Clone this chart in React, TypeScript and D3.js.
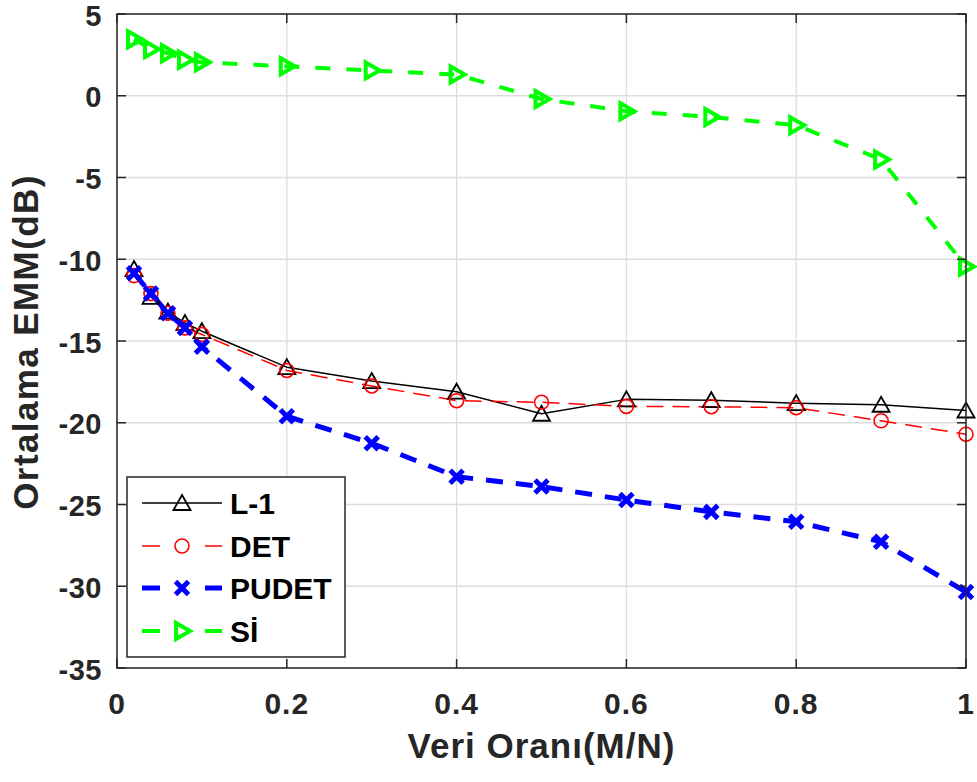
import React from "react";
import * as d3 from "d3";

const xValues = [0.02, 0.04, 0.06, 0.08, 0.1, 0.2, 0.3, 0.4, 0.5, 0.6, 0.7, 0.8, 0.9, 1.0];
const l1Values = [-10.6, -12.3, -13.2, -13.9, -14.4, -16.6, -17.45, -18.1, -19.45, -18.57, -18.62, -18.8, -18.9, -19.25];
const detValues = [-11.0, -12.1, -13.3, -14.2, -14.6, -16.8, -17.75, -18.65, -18.75, -19.0, -19.02, -19.08, -19.88, -20.7];
const pudetValues = [-10.85, -12.1, -13.3, -14.2, -15.35, -19.6, -21.25, -23.3, -23.9, -24.73, -25.45, -26.06, -27.28, -30.35];
const siValues = [3.45, 2.85, 2.6, 2.2, 2.05, 1.8, 1.55, 1.3, -0.2, -0.95, -1.3, -1.8, -3.9, -10.45];

const xTicks = [0, 0.2, 0.4, 0.6, 0.8, 1];
const xTickLabels = ["0", "0.2", "0.4", "0.6", "0.8", "1"];
const yTicks = [5, 0, -5, -10, -15, -20, -25, -30, -35];
const yTickLabels = ["5", "0", "-5", "-10", "-15", "-20", "-25", "-30", "-35"];

const seriesNames = ["L-1", "DET", "PUDET", "Sİ"];
const xLabel = "Veri Oranı(M/N)";
const yLabel = "Ortalama EMM(dB)";

const W = 977;
const H = 782;
const L = 117;
const R = 966;
const T = 14;
const B = 668;
const FONT = "'Liberation Sans', Arial, Helvetica, sans-serif";

type Style = {
  color: string;
  width: number;
  dash: string;
  marker: "tri" | "circle" | "x" | "right";
  mWidth: number;
};

const styles: Style[] = [
  { color: "#000000", width: 1.5, dash: "none", marker: "tri", mWidth: 1.8 },
  { color: "#ff0000", width: 1.5, dash: "17,9", marker: "circle", mWidth: 1.6 },
  { color: "#0000ff", width: 5, dash: "17,13", marker: "x", mWidth: 5 },
  { color: "#00ff00", width: 4, dash: "15,16", marker: "right", mWidth: 4 },
];

function Marker({ kind, x, y, s }: { kind: Style["marker"]; x: number; y: number; s: Style }) {
  const common = { fill: "none", stroke: s.color, strokeWidth: s.mWidth, strokeLinejoin: "miter" as const };
  if (kind === "tri") {
    return <path d={`M${x},${y - 8} L${x + 8.5},${y + 7} L${x - 8.5},${y + 7} Z`} {...common} />;
  }
  if (kind === "circle") {
    return <circle cx={x} cy={y} r={7} {...common} />;
  }
  if (kind === "x") {
    const a = 6.5;
    return (
      <path
        d={`M${x - a},${y - a} L${x + a},${y + a} M${x - a},${y + a} L${x + a},${y - a}`}
        {...common}
        strokeLinecap="butt"
      />
    );
  }
  return <path d={`M${x - 6},${y - 8} L${x + 8},${y} L${x - 6},${y + 8} Z`} {...common} />;
}

export default function App() {
  const x = d3.scaleLinear().domain([0, 1]).range([L, R]);
  const y = d3.scaleLinear().domain([-35, 5]).range([B, T]);
  const all = [l1Values, detValues, pudetValues, siValues];
  const line = d3
    .line<number>()
    .x((_, i) => x(xValues[i]))
    .y((d) => y(d));

  const axisColor = "#262626";
  const tickLen = 9;

  const legX = 127;
  const legY = 477;
  const legW = 218;
  const legH = 180;
  const rowYs = [503, 546, 588, 631];

  return (
    <svg
      width={W}
      height={H}
      style={{ position: "absolute", left: 0, top: 0, background: "#fff" }}
      fontFamily={FONT}
    >
      <rect x={0} y={0} width={W} height={H} fill="#ffffff" />
      {/* grid */}
      {xTicks.map((t) => (
        <line key={"gx" + t} x1={x(t)} x2={x(t)} y1={T} y2={B} stroke="#dcdcdc" strokeWidth={1.3} />
      ))}
      {yTicks.map((t) => (
        <line key={"gy" + t} x1={L} x2={R} y1={y(t)} y2={y(t)} stroke="#dcdcdc" strokeWidth={1.3} />
      ))}
      {/* series */}
      {all.map((vals, si) => (
        <path
          key={"s" + si}
          d={line(vals) || ""}
          fill="none"
          stroke={styles[si].color}
          strokeWidth={styles[si].width}
          strokeDasharray={styles[si].dash}
          strokeLinejoin="round"
        />
      ))}
      {all.map((vals, si) => (
        <g key={"m" + si}>
          {vals.map((v, i) => (
            <Marker key={i} kind={styles[si].marker} x={x(xValues[i])} y={y(v)} s={styles[si]} />
          ))}
        </g>
      ))}
      {/* axes box */}
      <rect x={L} y={T} width={R - L} height={B - T} fill="none" stroke={axisColor} strokeWidth={1.5} />
      {xTicks.map((t) => (
        <g key={"tx" + t}>
          <line x1={x(t)} x2={x(t)} y1={B} y2={B - tickLen} stroke={axisColor} strokeWidth={1.5} />
          <line x1={x(t)} x2={x(t)} y1={T} y2={T + tickLen} stroke={axisColor} strokeWidth={1.5} />
        </g>
      ))}
      {yTicks.map((t) => (
        <g key={"ty" + t}>
          <line x1={L} x2={L + tickLen} y1={y(t)} y2={y(t)} stroke={axisColor} strokeWidth={1.5} />
          <line x1={R} x2={R - tickLen} y1={y(t)} y2={y(t)} stroke={axisColor} strokeWidth={1.5} />
        </g>
      ))}
      {/* tick labels */}
      {xTicks.map((t, i) => (
        <text
          key={"lx" + t}
          x={x(t)}
          y={714}
          textAnchor="middle"
          fontSize={30}
          fontWeight="bold"
          letterSpacing={1}
          fill={axisColor}
        >
          {xTickLabels[i]}
        </text>
      ))}
      {yTicks.map((t, i) => (
        <text
          key={"ly" + t}
          x={102}
          y={y(t)}
          dy="0.4em"
          textAnchor="end"
          fontSize={29}
          fontWeight="bold"
          letterSpacing={0.5}
          fill={axisColor}
        >
          {yTickLabels[i]}
        </text>
      ))}
      {/* axis labels */}
      <text
        x={(L + R) / 2}
        y={758}
        textAnchor="middle"
        fontSize={35}
        fontWeight="bold"
        letterSpacing={1}
        fill={axisColor}
      >
        {xLabel}
      </text>
      <text
        transform={`translate(38,${(177 + 507) / 2}) rotate(-90)`}
        textAnchor="middle"
        fontSize={35}
        fontWeight="bold"
        letterSpacing={1.4}
        fill={axisColor}
      >
        {yLabel}
      </text>
      {/* legend */}
      <rect x={legX} y={legY} width={legW} height={legH} fill="#ffffff" stroke={axisColor} strokeWidth={1.5} />
      {seriesNames.map((name, i) => (
        <g key={"leg" + i}>
          {i === 0 ? (
            <line x1={142} x2={222} y1={rowYs[i]} y2={rowYs[i]} stroke={styles[i].color} strokeWidth={styles[i].width} />
          ) : (
            <>
              <line x1={142} x2={160} y1={rowYs[i]} y2={rowYs[i]} stroke={styles[i].color} strokeWidth={styles[i].width} />
              <line x1={205} x2={222} y1={rowYs[i]} y2={rowYs[i]} stroke={styles[i].color} strokeWidth={styles[i].width} />
            </>
          )}
          <Marker kind={styles[i].marker} x={182} y={rowYs[i]} s={styles[i]} />
          <text x={230} y={rowYs[i]} dy="0.36em" fontSize={30} fontWeight="bold" fill="#000">
            {name}
          </text>
        </g>
      ))}
    </svg>
  );
}
